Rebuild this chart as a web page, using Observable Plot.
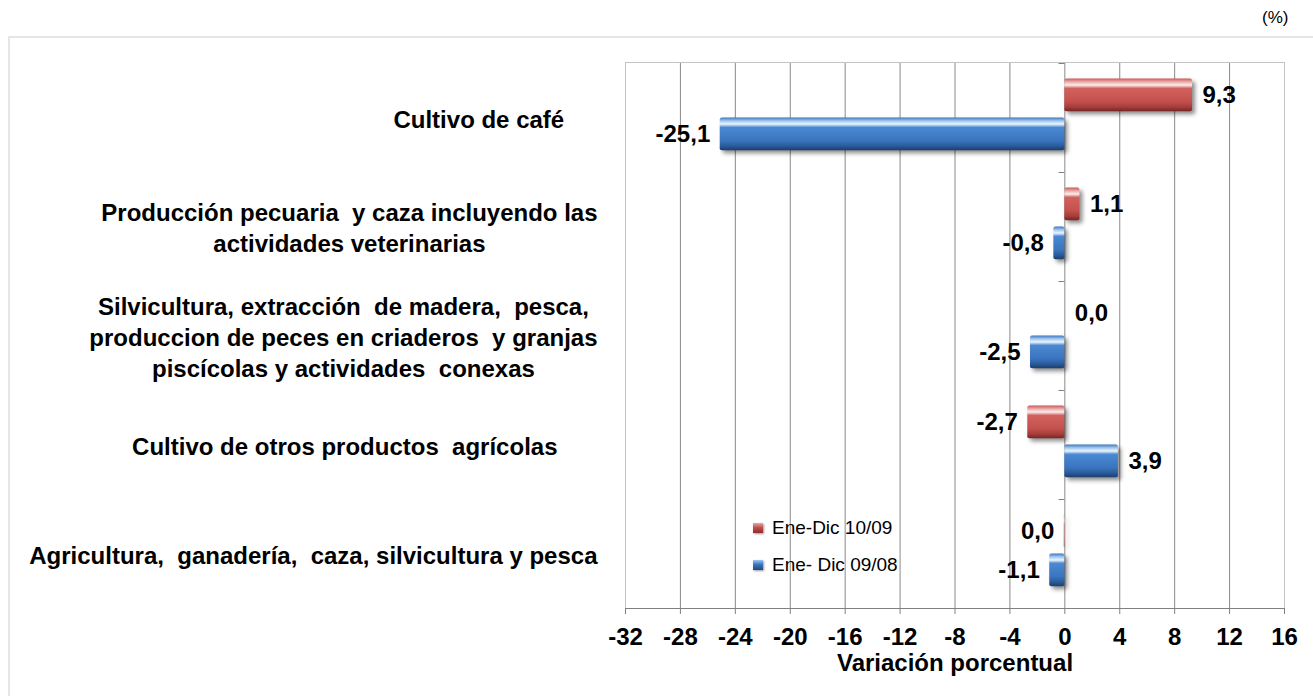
<!DOCTYPE html>
<html><head><meta charset="utf-8">
<script src="https://cdn.jsdelivr.net/npm/d3@7"></script>
<script src="https://cdn.jsdelivr.net/npm/@observablehq/plot@0.6"></script>
<style>
html,body{margin:0;padding:0;background:#fff;width:1313px;height:696px;overflow:hidden;font-family:"Liberation Sans",Arial,sans-serif;}
#wrap{position:relative;width:1313px;height:696px;}
#box{position:absolute;left:8px;top:36px;width:1320px;height:720px;border:2px solid #e6e6e6;box-sizing:border-box;}
#pct{position:absolute;left:1262px;top:8px;font-size:17px;color:#000;}
#chart{position:absolute;left:0;top:0;}
#legend{position:absolute;left:753px;top:509px;font-size:19px;color:#000;}
.row{display:flex;align-items:center;height:37px;}
.sw{width:10px;height:10px;margin-right:9px;box-shadow:1px 1px 2px rgba(0,0,0,0.4);}
</style></head>
<body>
<div id="wrap">
  <div id="box"></div>
  <div id="pct">(%)</div>
  <div id="chart"></div>
  <div id="legend"></div>
</div>
<script>
const categories = [
  "Cultivo de café",
  "Producción pecuaria y caza incluyendo las actividades veterinarias",
  "Silvicultura, extracción de madera, pesca, produccion de peces en criaderos y granjas piscícolas y actividades conexas",
  "Cultivo de otros productos agrícolas",
  "Agricultura, ganadería, caza, silvicultura y pesca"
];
const NB = "\u00a0";
const categoryLabels = [
  "Cultivo de café" + NB.repeat(5),
  "Producción pecuaria  y caza incluyendo las\nactividades veterinarias",
  "Silvicultura, extracción  de madera,  pesca,\nproduccion de peces en criaderos  y granjas\npiscícolas y actividades  conexas",
  "Cultivo de otros productos  agrícolas" + NB.repeat(6),
  "Agricultura,  ganadería,  caza, silvicultura y pesca"
];
const seriesNames = ["Ene-Dic 10/09", "Ene- Dic 09/08"];
const values1009 = [9.3, 1.1, 0.0, -2.7, -0.04];
const values0908 = [-25.1, -0.8, -2.5, 3.9, -1.1];
const xTicks = [-32, -28, -24, -20, -16, -12, -8, -4, 0, 4, 8, 12, 16];
const gridTicks = [-28, -24, -20, -16, -12, -8, -4, 0, 4, 8, 12];

const rows = categories.map((c, i) => ({cat: c, label: categoryLabels[i], v1: values1009[i], v2: values0908[i]}));
const fmt = v => (Math.abs(v) < 0.05 ? 0 : v).toFixed(1).replace(".", ",");

function gradients() {
  const g = d3.create("svg:g");
  const defs = g.append("defs");
  const add = (id, stops) => {
    const lg = defs.append("linearGradient").attr("id", id)
      .attr("x1", 0).attr("y1", 0).attr("x2", 0).attr("y2", 1);
    stops.forEach(([o, c]) => lg.append("stop").attr("offset", o).attr("stop-color", c));
  };
  add("gRed", [[0, "#c65c59"], [0.1, "#eaa9a7"], [0.2, "#fbeeee"], [0.3, "#d2625e"], [0.7, "#c4504c"], [0.87, "#a53d3a"], [1, "#742624"]]);
  add("gBlue", [[0, "#3c76c0"], [0.1, "#9fc6ee"], [0.2, "#eaf5fe"], [0.3, "#4a89d2"], [0.7, "#3a75bf"], [0.87, "#2a5b9b"], [1, "#1b3d6b"]]);
  return g.node();
}

function zeroTicks(index, scales, values, dimensions) {
  const g = d3.create("svg:g").attr("stroke", "#808080").attr("stroke-width", 1);
  const x0 = Math.round(scales.x(0)) + 0.5;
  const ys = categories.map(c => scales.y(c));
  ys.push(dimensions.height - dimensions.marginBottom);
  ys.forEach(y => g.append("line").attr("x1", x0 - 6).attr("x2", x0).attr("y1", Math.round(y) + 0.5).attr("y2", Math.round(y) + 0.5));
  return g.node();
}

const ctx = document.createElement("canvas").getContext("2d");
ctx.font = "bold 24px 'Liberation Sans'";
const labelMarks = rows.map(r => {
  const w = d3.max(r.label.split("\n"), s => ctx.measureText(s).width);
  return Plot.text([r], {
    y: "cat", text: "label", frameAnchor: "left", textAnchor: "middle",
    dx: -28 - w / 2, lineHeight: 1.29, fontSize: 24, fontWeight: "bold", fill: "#000"
  });
});

const shadow = "drop-shadow(3px 3px 2px rgba(0,0,0,0.45))";
const redTop = 15.5, redBottom = 60.7, blueTop = 54.5, blueBottom = 21.7;
const redDy = -22.6, blueDy = 16.4;

const chart = Plot.plot({
  width: 1313,
  height: 696,
  marginLeft: 625,
  marginRight: 29,
  marginTop: 62,
  marginBottom: 88,
  style: {fontFamily: "'Liberation Sans', Arial, sans-serif", fontSize: "24px", fontWeight: "bold", whiteSpace: "pre", overflow: "visible", background: "transparent"},
  x: {domain: [-32, 16]},
  y: {domain: categories, padding: 0, axis: null},
  marks: [
    gradients,
    Plot.gridX({ticks: gridTicks, stroke: "#8a8a8a", strokeOpacity: 1}),
    Plot.frame({stroke: "#c4c4c4"}),
    Plot.frame({anchor: "bottom", stroke: "#808080"}),
    zeroTicks,
    Plot.barX(rows, {y: "cat", x1: 0, x2: "v1", fill: "url(#gRed)", insetTop: redTop, insetBottom: redBottom, rx: 2, imageFilter: shadow}),
    Plot.barX(rows, {y: "cat", x1: 0, x2: "v2", fill: "url(#gBlue)", insetTop: blueTop, insetBottom: blueBottom, rx: 2, imageFilter: shadow}),
    Plot.text(rows.filter(r => r.v1 >= 0), {y: "cat", x: "v1", text: d => fmt(d.v1), textAnchor: "start", dx: 10, dy: redDy, fontSize: 24, fontWeight: "bold", fill: "#000"}),
    Plot.text(rows.filter(r => r.v1 < 0), {y: "cat", x: "v1", text: d => fmt(d.v1), textAnchor: "end", dx: -10, dy: redDy, fontSize: 24, fontWeight: "bold", fill: "#000"}),
    Plot.text(rows.filter(r => r.v2 >= 0), {y: "cat", x: "v2", text: d => fmt(d.v2), textAnchor: "start", dx: 10, dy: blueDy, fontSize: 24, fontWeight: "bold", fill: "#000"}),
    Plot.text(rows.filter(r => r.v2 < 0), {y: "cat", x: "v2", text: d => fmt(d.v2), textAnchor: "end", dx: -10, dy: blueDy, fontSize: 24, fontWeight: "bold", fill: "#000"}),
    ...labelMarks,
    Plot.axisX({ticks: xTicks, tickSize: 6, tickPadding: 13, stroke: "#808080", fill: "#000",
      tickFormat: d => String(d), fontSize: 24, fontWeight: "bold",
      label: "Variación porcentual", labelAnchor: "center", labelOffset: 62, labelArrow: "none"})
  ]
});
document.getElementById("chart").appendChild(chart);

const legendColors = ["linear-gradient(#e9a7a5, #c0504d 45%, #8e2f2c)", "linear-gradient(#9fc6ee, #3a75bf 45%, #1f4a80)"];
const legend = d3.select("#legend");
seriesNames.forEach((s, i) => {
  const row = legend.append("div").attr("class", "row");
  row.append("div").attr("class", "sw").style("background", legendColors[i]);
  row.append("span").style("white-space", "pre").text(s);
});
</script>
</body></html>
